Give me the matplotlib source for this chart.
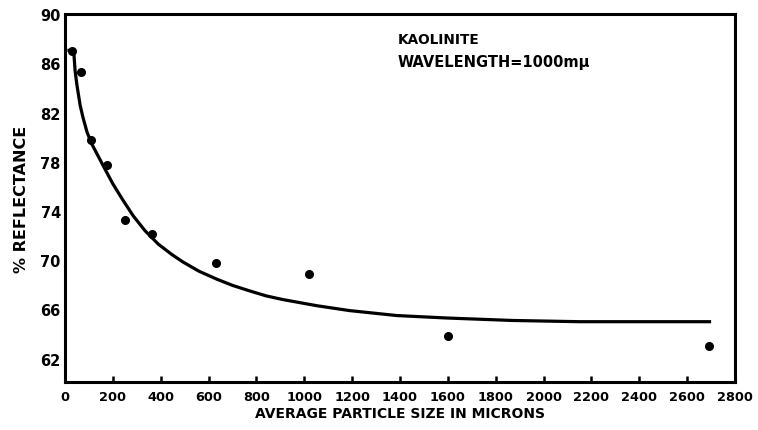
import matplotlib
matplotlib.use("Agg")
import matplotlib.pyplot as plt

# measured reflectance of kaolinite at 1000 mu, by particle size
size_pts = [30, 67, 109, 175, 251, 363, 631, 1019, 1600, 2690]
refl_pts = [87.0, 85.3, 79.8, 77.7, 73.3, 72.1, 69.8, 68.9, 63.8, 63.0]

# smooth trend line drawn through the data
size_fit = [10, 36, 42, 50, 63, 75, 92, 113, 140, 167, 200, 238, 285, 334,
            390, 447, 493, 560, 635, 700, 772, 840, 910, 1052, 1190, 1386,
            1595, 1870, 2150, 2430, 2700]
refl_fit = [87.05, 87.05, 85.4, 84.2, 82.6, 81.6, 80.4, 79.4, 78.4, 77.4,
            76.2, 75.0, 73.6, 72.4, 71.3, 70.45, 69.85, 69.1, 68.45, 67.95,
            67.5, 67.1, 66.8, 66.3, 65.9, 65.5, 65.3, 65.1, 65.0, 65.0, 65.0]

xticks = list(range(0, 2801, 200))
yticks = [62, 66, 70, 74, 78, 82, 86, 90]

plt.rcParams["font.family"] = ["DejaVu Sans"]
plt.rcParams["font.weight"] = "heavy"

fig = plt.figure(figsize=(7.58, 4.31), dpi=100)
ax = fig.add_axes([0.0858, 0.1114, 0.8839, 0.8536])

ax.plot(size_fit, refl_fit, color="black", linewidth=2.3,
        solid_capstyle="butt", solid_joinstyle="round")
ax.plot(size_pts, refl_pts, "o", color="black", markersize=5.5)

ax.set_xlim(0, 2800)
ax.set_ylim(60.1, 90)
ax.set_xticks(xticks)
ax.set_yticks(yticks)
ax.tick_params(axis="x", direction="in", length=4, width=1.8, pad=6, labelsize=9.3)
ax.tick_params(axis="y", length=0, pad=3, labelsize=10.5)
for lbl in ax.get_xticklabels() + ax.get_yticklabels():
    lbl.set_fontweight("heavy")
for sp in ax.spines.values():
    sp.set_linewidth(2.2)

ax.set_xlabel("AVERAGE PARTICLE SIZE IN MICRONS", fontsize=10, fontweight="heavy", labelpad=2)
ax.set_ylabel("% REFLECTANCE", fontsize=11.5, fontweight="heavy", labelpad=8)

ax.text(0.497, 0.933, "KAOLINITE", transform=ax.transAxes, fontsize=9.8,
        fontweight="heavy", va="center")
ax.text(0.497, 0.872, "WAVELENGTH=1000m\u03bc", transform=ax.transAxes, fontsize=10.5,
        fontweight="heavy", va="center")

fig.savefig("out.png", dpi=100)
